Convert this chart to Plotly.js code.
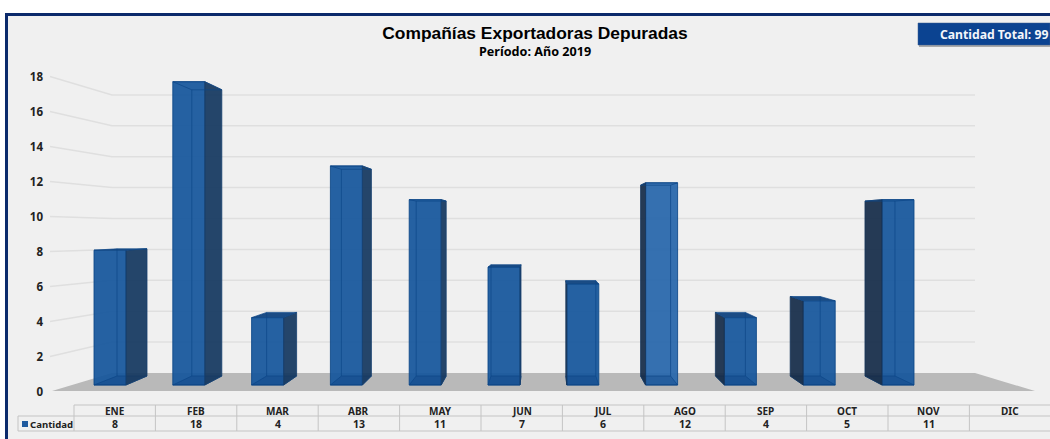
<!DOCTYPE html>
<html>
<head>
<meta charset="utf-8">
<script src="https://cdn.plot.ly/plotly-3.0.1.min.js"></script>
<style>html,body{margin:0;padding:0;background:#fff;overflow:hidden}#c{width:1050px;height:439px}</style>
</head>
<body>
<div id="c"></div>
<script>
// ---- data ----
const months = ['ENE','FEB','MAR','ABR','MAY','JUN','JUL','AGO','SEP','OCT','NOV','DIC'];
const cantidad = [8,18,4,13,11,7,6,12,4,5,11,null];
const yTicks = [0,2,4,6,8,10,12,14,16,18];
const titleText = 'Compañías Exportadoras Depuradas';
const subtitleText = 'Período: Año 2019';
const totalText = 'Cantidad Total: 99';
const rowLabel = 'Cantidad';

// ---- geometry of the pseudo 3D scene ----
const W = 1050, H = 439;
const STEP = 78.8, FIRST = 110, BARW = 32, BACKW = 30, VANISH = 547, KX = 0.0508;
const X = px => (px - FIRST) / STEP;                // pixel -> category index
const yLabelZero = 391.5, yLabelUnit = 17.5;        // axis with labels
const frontZero = 385, frontUnit = 16.85;           // front faces
const backZero = 376, backUnit = 15.9;              // back faces
const wallZero = 373, wallUnit = 15.45;             // wall grid
const Y2 = px => (frontZero - px) / frontUnit;
const Y1 = px => (yLabelZero - px) / yLabelUnit;
const pp = (x, y) => (x / W).toFixed(5) + ',' + (1 - y / H).toFixed(5);
const poly = pts => 'M' + pts.map(p => pp(p[0], p[1])).join('L') + 'Z';

const FRONT = 'rgba(20,85,155,0.92)', FRONT_LIGHT = 'rgba(42,104,172,0.95)';
const EDGE = 'rgba(12,70,135,0.85)';
const SIDE_R = 'rgba(20,56,96,0.93)', SIDE_L = 'rgba(20,42,72,0.92)';
const TOP = '#1b4c85', BOTTOM = 'rgba(10,60,125,0.3)';

const traces = [];

// wall grid lines, on the axis that carries the labels
yTicks.filter(t => t > 0).forEach(t => {
  const wy = Y1(wallZero - wallUnit * t);
  traces.push({type:'scatter', mode:'lines', xaxis:'x', yaxis:'y',
    x:[X(50), X(112), X(975)], y:[t, wy, wy],
    line:{color:'#dfdfdf', width:1.5}, hoverinfo:'skip', showlegend:false});
});

// front faces
traces.push({type:'bar', name:rowLabel, xaxis:'x', yaxis:'y2',
  x:months.map((m,i)=>i), y:cantidad, width:BARW/STEP,
  marker:{color:months.map((m,i)=> i===7 ? FRONT_LIGHT : FRONT), line:{color:EDGE, width:1}},
  hovertemplate:'%{y}<extra></extra>', showlegend:false});

// side, top and see-through back edges, derived from each value
cantidad.forEach((v,i) => {
  if (v === null) return;
  const fl = FIRST - BARW/2 + STEP*i, fr = fl + BARW;
  const bl = fl + KX*(VANISH - fl), br = bl + BACKW;
  const ft = v, fb = 0;
  const bt = Y2(backZero - backUnit*v), bb = Y2(backZero);
  const add = (xs, ys, fill, lineCol, lw) => traces.push({type:'scatter', mode:'lines', xaxis:'x', yaxis:'y2',
    x:xs.map(X), y:ys, fill: fill ? 'toself' : 'none', fillcolor: fill || undefined,
    line:{color:lineCol, width:lw}, hoverinfo:'skip', showlegend:false});
  // bottom face
  add([fl,fr,br,bl,fl],[fb,fb,bb,bb,fb], BOTTOM, EDGE, 0.8);
  // side face
  if (br > fr + 0.5) add([fr,br,br,fr,fr],[ft,bt,bb,fb,ft], SIDE_R, '#17406e', 0.8);
  else if (bl < fl - 0.5) add([fl,bl,bl,fl,fl],[ft,bt,bb,fb,ft], SIDE_L, '#17365c', 0.8);
  // top face: solid when it rises above the front face, outline otherwise
  add([fl,fr,br,bl,fl],[ft,ft,bt,bt,ft], bt > ft ? TOP : null, EDGE, 0.8);
  // back edge seen through the front face
  const inner = br > fr ? bl : br;
  add([inner, inner],[bt,bb], null, EDGE, 0.8);
});

// ---- background, floor, badge, table ----
const shapes = [
  {type:'path', xref:'paper', yref:'paper', layer:'below', path:poly([[6.5,14.5],[1060,14.5],[1060,445],[6.5,445]]),
   fillcolor:'#f0f0f0', line:{color:'#0b2a6b', width:3}},
  {type:'path', xref:'paper', yref:'paper', layer:'below', path:poly([[52,391],[112,373],[975,373],[1035,391]]),
   fillcolor:'#b9b9b9', line:{width:0}},
  {type:'path', xref:'paper', yref:'paper', layer:'below', path:poly([[919,25],[1050,25],[1050,47],[919,47]]),
   fillcolor:'#a9a9a9', line:{width:0}},
  {type:'path', xref:'paper', yref:'paper', layer:'below', path:poly([[918,23],[1050,23],[1050,45],[918,45]]),
   fillcolor:'#0b4391', line:{color:'#3f5f8f', width:0.5}}
];
const TABLE_L = 74, COLW = 81.4, ROW0 = 405, ROW1 = 416, ROW2 = 431;
const gline = (pts) => shapes.push({type:'path', xref:'paper', yref:'paper', layer:'below',
  path:'M' + pts.map(p => pp(p[0],p[1])).join('L'), line:{color:'#c4c4c4', width:1}});
gline([[TABLE_L,ROW0],[W,ROW0]]);
gline([[18,ROW1],[W,ROW1]]);
gline([[18,ROW2],[W,ROW2]]);
gline([[18,ROW1],[18,ROW2]]);
months.forEach((m,i) => gline([[TABLE_L+COLW*i,ROW0],[TABLE_L+COLW*i,ROW2]]));
shapes.push({type:'path', xref:'paper', yref:'paper', layer:'below',
  path:poly([[22,421],[28,421],[28,427],[22,427]]), fillcolor:'#1f5a9e', line:{width:0}});

const FONT = 'Noto Sans, DejaVu Sans, sans-serif';
const note = (text, x, y, size, color, anchor) => ({text:text, xref:'paper', yref:'paper', x:x/W, y:1-y/H,
  xanchor:anchor||'center', yanchor:'middle', showarrow:false, align:'center',
  font:{family:FONT, size:size, color:color||'#111', weight:700}});
const annotations = [
  note(totalText, 994, 34, 12.2, '#f4f6fa'),
  note(subtitleText, 535, 51, 12.6, '#000'),
  note(rowLabel, 28, 424, 9.6, '#222', 'left')
];
months.forEach((m,i) => {
  annotations.push(note(m, TABLE_L+COLW*(i+0.5), 411, 10, '#222'));
  if (cantidad[i] !== null) annotations.push(note(String(cantidad[i]), TABLE_L+COLW*(i+0.5), 424, 10.5, '#222'));
});

const layout = {
  width:W, height:H, margin:{l:0,r:0,t:0,b:0,pad:0},
  paper_bgcolor:'#ffffff', plot_bgcolor:'rgba(0,0,0,0)',
  showlegend:false, barmode:'overlay', hovermode:'closest',
  title:{text:'<b>'+titleText+'</b>', x:535/W, xanchor:'center', y:1-33/H, yanchor:'middle', xref:'paper', yref:'paper',
    font:{family:'Liberation Sans, Arial, sans-serif', size:17.4, color:'#000'}},
  xaxis:{type:'linear', domain:[0,1], range:[X(0), X(W)], visible:false, fixedrange:true},
  yaxis:{domain:[0,1], range:[Y1(H), Y1(0)], anchor:'free', position:43/W, tickvals:yTicks, ticktext:yTicks.map(String),
    showgrid:false, zeroline:false, showline:false, ticks:'', automargin:false, fixedrange:true,
    tickfont:{family:FONT, size:11.5, color:'#222', weight:700}},
  yaxis2:{overlaying:'y', domain:[0,1], range:[Y2(H), Y2(0)], visible:false, fixedrange:true},
  shapes:shapes, annotations:annotations
};
Plotly.newPlot('c', traces, layout, {displayModeBar:false, responsive:false});
</script>
</body>
</html>
